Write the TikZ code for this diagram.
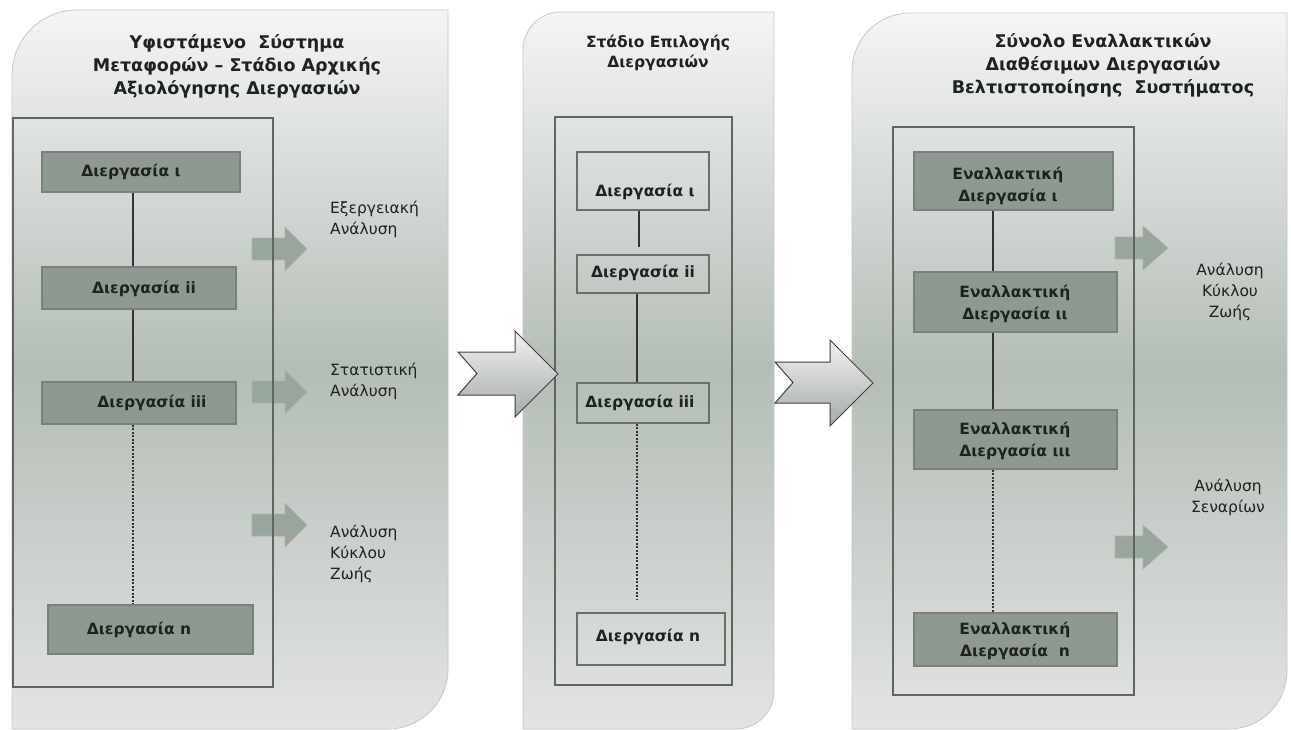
\documentclass[tikz,border=0pt]{standalone}
\usepackage{fontspec}
\setmainfont{DejaVu Sans}
\usetikzlibrary{calc}
\definecolor{panTop}{HTML}{F4F5F4}
\definecolor{panMid}{HTML}{B4BDB6}
\definecolor{panBot}{HTML}{E2E4E2}
\definecolor{panEdge}{HTML}{C4C8C4}
\definecolor{innerEdge}{HTML}{5E665F}
\definecolor{boxFill}{HTML}{8E9A90}
\definecolor{boxEdge}{HTML}{76827A}
\definecolor{lightEdge}{HTML}{687169}
\definecolor{arrFill}{HTML}{98A69B}
\definecolor{arrEdge}{HTML}{A9B5AC}
\definecolor{txt}{HTML}{1E231F}
\definecolor{chevTop}{HTML}{F2F2F2}
\definecolor{chevBot}{HTML}{A4ABA6}
\begin{document}
\begin{tikzpicture}[x=1pt,y=-1pt,
  panel/.style={draw=panEdge, line width=0.8pt, top color=panTop, bottom color=panBot, middle color=panMid},
  innerbox/.style={draw=innerEdge, line width=2pt},
  darkbox/.style={draw=boxEdge, line width=1.5pt, fill=boxFill, inner sep=0pt},
  lightbox/.style={draw=lightEdge, line width=1.5pt, inner sep=0pt},
  boxtext/.style={text=txt, font=\bfseries\fontsize{15.5}{22}\selectfont, align=center, inner sep=0pt},
  titletext/.style={text=txt, font=\bfseries\fontsize{17.5}{23}\selectfont, align=center, inner sep=0pt},
  sidetext/.style={text=txt, font=\fontsize{15.5}{21}\selectfont, inner sep=0pt},
  smallarrow/.style={fill=arrFill, draw=arrEdge, line width=0.6pt},
  chevron/.style={draw=black!75, line width=1pt, top color=chevTop, bottom color=chevBot},
  link/.style={draw=black!80, line width=1.2pt},
  dotlink/.style={draw=black!80, line width=1.2pt, dash pattern=on 2pt off 1.5pt}
]
\useasboundingbox (0,0) rectangle (1291,729);
\fill[white] (0,0) rectangle (1291,729);

% ---------- panels ----------
\path[panel] (12,729) -- (12,75) .. controls (12,39.1) and (41.1,10) .. (77,10)
  -- (448,10) -- (448,669) .. controls (448,702.1) and (421.1,729) .. (388,729) -- cycle;
\path[panel] (523,729) -- (523,50) .. controls (523,29) and (540,12) .. (561,12)
  -- (774,12) -- (774,691) .. controls (774,712) and (757,729) .. (736,729) -- cycle;
\path[panel] (852,729) -- (852,71) .. controls (852,39) and (878,13) .. (910,13)
  -- (1287,13) -- (1287,671) .. controls (1287,703) and (1261,729) .. (1229,729) -- cycle;

% ---------- titles ----------
\node[titletext] (t1) at (237,66) {Υφιστάμενο\ \ Σύστημα\\Μεταφορών – Στάδιο Αρχικής\\Αξιολόγησης Διεργασιών};
\node[titletext, font=\bfseries\fontsize{15.5}{20.5}\selectfont] (t2) at (658,53) {Στάδιο Επιλογής\\Διεργασιών};
\node[titletext] (t3) at (1103,65) {Σύνολο Εναλλακτικών\\Διαθέσιμων Διεργασιών\\Βελτιστοποίησης\ \ Συστήματος};

% ---------- small arrows ----------
\foreach \cy/\nm in {249/a1, 392/a2, 525/a3}{
  \path[smallarrow] (252,\cy-11) -- (285,\cy-11) -- (285,\cy-22) -- (307,\cy) -- (285,\cy+22)
    -- (285,\cy+11) -- (252,\cy+11) -- cycle;
}
\foreach \cy/\nm in {248/a4, 547/a5}{
  \path[smallarrow] (1115,\cy-11) -- (1143,\cy-11) -- (1143,\cy-22) -- (1168,\cy) -- (1143,\cy+22)
    -- (1143,\cy+11) -- (1115,\cy+11) -- cycle;
}

% ---------- inner boxes ----------
\node[innerbox, minimum width=260pt, minimum height=569pt, inner sep=0pt] (in1) at (143,402.5) {};
\node[innerbox, minimum width=177pt, minimum height=568pt, inner sep=0pt] (in2) at (643.5,401) {};
\node[innerbox, minimum width=241pt, minimum height=568pt, inner sep=0pt] (in3) at (1013.5,411) {};

% ---------- big chevrons ----------
\path[chevron] (458,352) -- (515,352) -- (515,331) -- (558,374) -- (515,417) -- (515,395)
  -- (458,395) -- (477,373.5) -- cycle;
\path[chevron] (775,362) -- (830,362) -- (830,340) -- (873,383) -- (830,426) -- (830,403)
  -- (775,403) -- (793,382.5) -- cycle;

% ---------- panel 1 ----------
\node[darkbox, minimum width=198pt, minimum height=40pt] (p1i)   at (141,172) {};
\node[darkbox, minimum width=194pt, minimum height=42pt] (p1ii)  at (139,288) {};
\node[darkbox, minimum width=194pt, minimum height=42pt] (p1iii) at (139,403) {};
\node[darkbox, minimum width=205pt, minimum height=49pt] (p1n)   at (150.5,629.5) {};
\node[boxtext] (l1i)   at (131,172) {Διεργασία ι};
\node[boxtext] (l1ii)  at (144,289) {Διεργασία ii};
\node[boxtext] (l1iii) at (152,403) {Διεργασία iii};
\node[boxtext] (l1n)   at (139,630) {Διεργασία n};
\coordinate (x1) at (133,0);
\draw[link] (p1i.south -| x1) -- (p1ii.north -| x1);
\draw[link] (p1ii.south -| x1) -- (p1iii.north -| x1);
\draw[dotlink] (p1iii.south -| x1) -- (p1n.north -| x1);

\node[sidetext, anchor=north west, align=left] (s1) at (330,201) {Εξεργειακή\\Ανάλυση};
\node[sidetext, anchor=north west, align=left] (s2) at (330,363) {Στατιστική\\Ανάλυση};
\node[sidetext, anchor=north west, align=left] (s3) at (330,525) {Ανάλυση\\Κύκλου\\Ζωής};

% ---------- panel 2 ----------
\node[lightbox, minimum width=132pt, minimum height=58pt] (p2i)   at (643,181) {};
\node[lightbox, minimum width=132pt, minimum height=38pt] (p2ii)  at (643,274) {};
\node[lightbox, minimum width=132pt, minimum height=40pt] (p2iii) at (643,403) {};
\node[lightbox, minimum width=148pt, minimum height=52pt] (p2n)   at (651,639) {};
\node[boxtext] (l2i)   at (645,192) {Διεργασία ι};
\node[boxtext] (l2ii)  at (643,273) {Διεργασία ii};
\node[boxtext] (l2iii) at (640,403) {Διεργασία iii};
\node[boxtext] (l2n)   at (648,637) {Διεργασία n};
\coordinate (x2a) at (639,0);
\coordinate (x2b) at (637,0);
\draw[link, shorten >=7pt] (p2i.south -| x2a) -- (p2ii.north -| x2a);
\draw[link] (p2ii.south -| x2b) -- (p2iii.north -| x2b);
\draw[dotlink, shorten >=13pt] (p2iii.south -| x2b) -- (p2n.north -| x2b);

% ---------- panel 3 ----------
\node[darkbox, minimum width=199pt, minimum height=58pt] (p3i)   at (1013.5,181) {};
\node[darkbox, minimum width=203pt, minimum height=60pt] (p3ii)  at (1015.5,302) {};
\node[darkbox, minimum width=203pt, minimum height=59pt] (p3iii) at (1015.5,439.5) {};
\node[darkbox, minimum width=203pt, minimum height=53pt] (p3n)   at (1015.5,639.5) {};
\node[boxtext] (l3i)   at (1008,186) {Εναλλακτική\\Διεργασία ι};
\node[boxtext] (l3ii)  at (1015,304) {Εναλλακτική\\Διεργασία ιι};
\node[boxtext] (l3iii) at (1015,441) {Εναλλακτική\\Διεργασία ιιι};
\node[boxtext] (l3n)   at (1015,641) {Εναλλακτική\\Διεργασία\ \ n};
\coordinate (x3) at (993,0);
\draw[link] (p3i.south -| x3) -- (p3ii.north -| x3);
\draw[link] (p3ii.south -| x3) -- (p3iii.north -| x3);
\draw[dotlink] (p3iii.south -| x3) -- (p3n.north -| x3);

\node[sidetext, align=center] (s4) at (1230,292) {Ανάλυση\\Κύκλου\\Ζωής};
\node[sidetext, align=center] (s5) at (1228,497) {Ανάλυση\\Σεναρίων};
\end{tikzpicture}
\end{document}
